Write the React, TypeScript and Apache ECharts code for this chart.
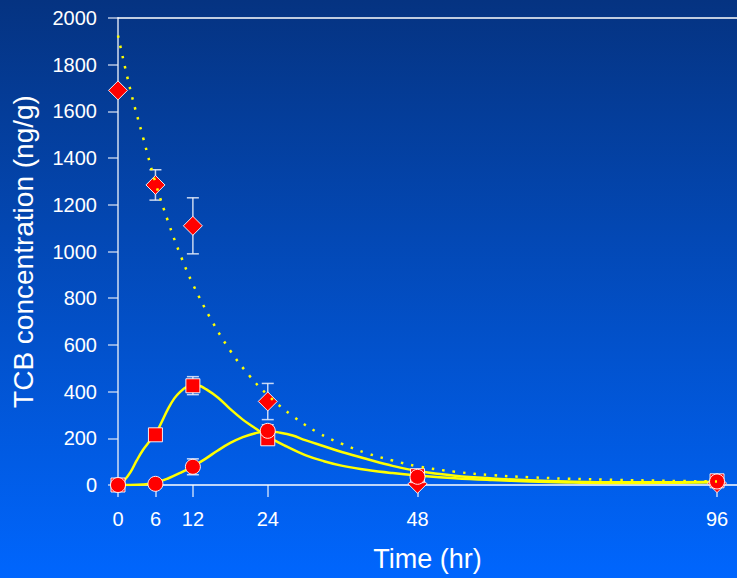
import React, { useEffect, useRef } from "react";
import * as echarts from "echarts";

// Tick labels
const xTicks = [0, 6, 12, 24, 48, 96];

// Measured points [time, value]
const parentPts = [[0, 1690], [6, 1285], [12, 1110], [24, 358], [48, 5], [96, 8]];
const metAPts = [[0, 0], [6, 215], [12, 425], [24, 198], [48, 40], [96, 18]];
const metBPts = [[0, 0], [6, 5], [12, 78], [24, 232], [48, 35], [96, 15]];

// Error bars [time, low, high]
const parentErr = [[6, 1220, 1350], [12, 990, 1230], [24, 280, 435]];
const metAErr = [[12, 387, 464], [24, 185, 212]];
const metBErr = [[12, 44, 112], [24, 212, 258]];

// Fitted curves [time, value]
const parentFit = [
  [0, 1925], [2, 1690], [4, 1490], [6, 1295], [8, 1130], [10, 985], [12, 860],
  [15, 705], [18, 575], [21, 470], [24, 385], [28, 295], [32, 225], [36, 175],
  [40, 135], [44, 105], [48, 80], [54, 57], [60, 42], [66, 33], [72, 27],
  [80, 22], [88, 18], [96, 15],
];
const metAFit = [
  [0, 0], [1, 20], [2, 55], [3, 105], [4, 150], [5, 185], [6, 218], [7, 270],
  [8, 325], [9, 370], [10, 400], [11, 420], [12, 427], [13, 425], [14, 412],
  [16, 375], [18, 325], [20, 280], [22, 243], [24, 207], [27, 165], [30, 128],
  [33, 102], [36, 82], [40, 64], [44, 51], [48, 41], [54, 29], [60, 21],
  [66, 15], [72, 11], [78, 9], [84, 9], [90, 10], [96, 12],
];
const metBFit = [
  [0, 0], [2, 0], [4, 2], [6, 10], [8, 28], [10, 52], [12, 80], [14, 112],
  [16, 148], [18, 180], [20, 205], [22, 222], [24, 230], [26, 224], [28, 212],
  [30, 192], [33, 166], [36, 140], [40, 110], [44, 82], [48, 60], [54, 40],
  [60, 28], [66, 20], [72, 15], [80, 12], [88, 12], [96, 14],
];

const FONT = "Liberation Sans, Arial, sans-serif";
const ERR_COLOR = "rgba(235,240,250,0.85)";

function errRender(params: any, api: any) {
  const x = api.value(0);
  const lo = api.coord([x, api.value(1)]);
  const hi = api.coord([x, api.value(2)]);
  const w = 6;
  const style = { stroke: ERR_COLOR, lineWidth: 1.5 };
  return {
    type: "group",
    children: [
      { type: "line", shape: { x1: hi[0], y1: hi[1], x2: lo[0], y2: lo[1] }, style },
      { type: "line", shape: { x1: hi[0] - w, y1: hi[1], x2: hi[0] + w, y2: hi[1] }, style },
      { type: "line", shape: { x1: lo[0] - w, y1: lo[1], x2: lo[0] + w, y2: lo[1] }, style },
    ],
  };
}

export default function App() {
  const ref = useRef<HTMLDivElement>(null);
  useEffect(() => {
    if (!ref.current) return;
    const chart = echarts.init(ref.current, undefined, { renderer: "svg" });
    const marker = {
      color: "#ff0000",
      borderColor: "rgba(255,255,255,0.9)",
      borderWidth: 1,
      opacity: 1,
    };
    chart.setOption({
      animation: false,
      backgroundColor: new echarts.graphic.LinearGradient(0, 0, 0, 1, [
        { offset: 0, color: "#053381" },
        { offset: 1, color: "#0066fe" },
      ]),
      grid: { left: 118, right: 0, top: 18, bottom: 93 },
      xAxis: [
        {
          type: "value",
          min: 0,
          max: 99.2,
          name: "Time (hr)",
          nameLocation: "middle",
          nameGap: 60,
          nameTextStyle: { color: "#fff", fontSize: 27, fontFamily: FONT },
          splitLine: { show: false },
          axisLine: { show: true, lineStyle: { color: "#ffffff", width: 1.5 } },
          axisTick: {
            show: true,
            length: 12,
            customValues: xTicks,
            lineStyle: { color: "rgba(255,255,255,0.75)", width: 1.5 },
          },
          axisLabel: {
            customValues: xTicks,
            color: "#fff",
            fontSize: 20,
            fontFamily: FONT,
            margin: 24,
            formatter: (v: number) => String(v),
          },
        },
        {
          type: "value",
          position: "top",
          min: 0,
          max: 99.2,
          splitLine: { show: false },
          axisLine: { show: true, lineStyle: { color: "#ffffff", width: 1.5 } },
          axisTick: { show: false },
          axisLabel: { show: false },
        },
      ],
      yAxis: {
        type: "value",
        min: 0,
        max: 2000,
        interval: 200,
        name: "TCB concentration (ng/g)",
        nameLocation: "middle",
        nameGap: 81,
        nameTextStyle: { color: "#fff", fontSize: 28, fontFamily: FONT },
        splitLine: { show: false },
        axisLine: { show: true, lineStyle: { color: "rgba(225,232,245,0.7)", width: 2 } },
        axisTick: {
          show: true,
          length: 10,
          lineStyle: { color: "rgba(225,232,245,0.8)", width: 1.5 },
        },
        axisLabel: {
          color: "#fff",
          fontSize: 20,
          fontFamily: FONT,
          margin: 21,
          formatter: (v: number) => String(v),
        },
      },
      series: [
        { type: "custom", renderItem: errRender, data: parentErr, encode: { x: 0, y: [1, 2] }, z: 1 },
        { type: "custom", renderItem: errRender, data: metAErr, encode: { x: 0, y: [1, 2] }, z: 1 },
        { type: "custom", renderItem: errRender, data: metBErr, encode: { x: 0, y: [1, 2] }, z: 1 },
        {
          type: "line",
          data: metAFit,
          smooth: 0.4,
          symbol: "none",
          lineStyle: { color: "#ffff00", width: 2.5 },
          z: 2,
        },
        {
          type: "line",
          data: metBFit,
          smooth: 0.4,
          symbol: "none",
          lineStyle: { color: "#ffff00", width: 2.5 },
          z: 2,
        },
        {
          type: "scatter",
          data: parentPts,
          symbol: "diamond",
          symbolSize: 19,
          itemStyle: marker,
          z: 3,
        },
        {
          type: "scatter",
          data: metAPts,
          symbol: "rect",
          symbolSize: 14,
          itemStyle: marker,
          z: 3,
        },
        {
          type: "scatter",
          data: metBPts,
          symbol: "circle",
          symbolSize: 15,
          itemStyle: marker,
          z: 4,
        },
        {
          type: "line",
          data: parentFit,
          smooth: 0.4,
          symbol: "none",
          lineStyle: { color: "#ffff00", width: 2.5, type: [2.5, 8] },
          z: 5,
        },
      ],
    });
    return () => chart.dispose();
  }, []);
  return (
    <div
      ref={ref}
      style={{ position: "fixed", left: 0, top: 0, width: 737, height: 578 }}
    />
  );
}
